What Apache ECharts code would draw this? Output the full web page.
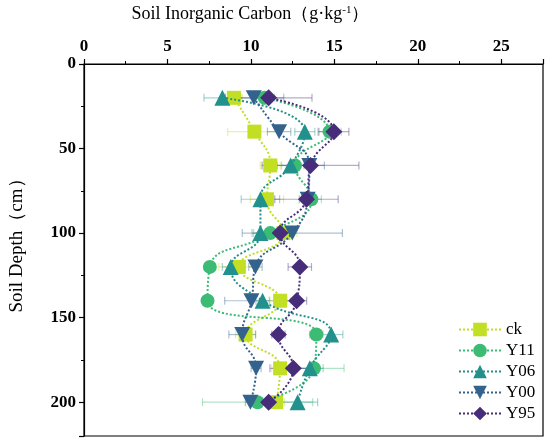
<!DOCTYPE html>
<html>
<head>
<meta charset="utf-8">
<script src="https://cdn.jsdelivr.net/npm/echarts@6/dist/echarts.min.js"></script>
<style>
html,body{margin:0;padding:0;background:#fff;}
#main{width:550px;height:445px;}
</style>
</head>
<body>
<div id="main"></div>
<script>
//深度 (cm)
var depthList = [20, 40, 60, 80, 100, 120, 140, 160, 180, 200];
//各处理无机碳均值
var ckList  = [8.98, 10.21, 11.16, 10.96, 11.95, 9.28, 11.75, 9.68, 11.75, 11.51];
var y11List = [10.82, 14.71, 12.64, 13.62, 11.16, 7.54, 7.40, 13.92, 13.78, 10.40];
var y06List = [8.29, 13.23, 12.38, 10.57, 10.57, 8.79, 10.70, 14.81, 13.53, 12.80];
var y00List = [10.17, 11.69, 13.50, 13.40, 12.48, 10.27, 10.03, 9.48, 10.31, 9.97];
var y95List = [11.06, 14.97, 13.57, 13.33, 11.75, 12.93, 12.74, 11.65, 12.54, 11.06];
//误差
var ckErr  = [0.5, 1.6, 0.6, 1.0, 0.8, 1.2, 0.6, 0.6, 0.5, 0.5];
var y11Err = [0.6, 0.7, 0.8, 0.6, 1.0, 0.3, 0.3, 0.4, 1.8, 3.3];
var y06Err = [1.1, 0.6, 0.8, 1.15, 0.5, 0.5, 0.4, 0.7, 0.8, 1.2];
var y00Err = [1.8, 0.7, 0.9, 0.5, 3.0, 0.4, 1.6, 0.8, 0.3, 0.3];
var y95Err = [2.6, 0.9, 2.9, 1.9, 0.6, 0.7, 0.6, 0.4, 1.4, 0.5];
//坐标刻度
var xTicks = [0, 5, 10, 15, 20, 25];
var yTicks = [0, 50, 100, 150, 200];

var names  = ['ck', 'Y11', 'Y06', 'Y00', 'Y95'];
var values = [ckList, y11List, y06List, y00List, y95List];
var errs   = [ckErr, y11Err, y06Err, y00Err, y95Err];
var colors = ['#c2df23', '#3cbb75', '#22908c', '#33638d', '#472c7a'];
var symbols = ['rect', 'circle', 'triangle', 'path://M0,0 L10,0 L5,9 Z', 'diamond'];
var sizes  = [14, 14, 16, [16, 15], 17];

var fontFamily = '"Liberation Serif", "Times New Roman", serif';

var series = [];
//误差棒
for (var s = 0; s < names.length; s++) {
    var errData = [];
    for (var i = 0; i < depthList.length; i++) {
        errData.push([values[s][i], depthList[i], errs[s][i]]);
    }
    series.push({
        type: 'custom',
        name: names[s] + '_err',
        z: 1,
        silent: true,
        itemStyle: {color: colors[s]},
        renderItem: (function (col) {
            return function (params, api) {
                var x = api.value(0), d = api.value(1), e = api.value(2);
                var p1 = api.coord([x - e, d]);
                var p2 = api.coord([x + e, d]);
                var h = 4;
                var st = {stroke: col, lineWidth: 1.2, opacity: 0.4};
                return {
                    type: 'group',
                    children: [
                        {type: 'line', shape: {x1: p1[0], y1: p1[1], x2: p2[0], y2: p2[1]}, style: st},
                        {type: 'line', shape: {x1: p1[0], y1: p1[1] - h, x2: p1[0], y2: p1[1] + h}, style: st},
                        {type: 'line', shape: {x1: p2[0], y1: p2[1] - h, x2: p2[0], y2: p2[1] + h}, style: st}
                    ]
                };
            };
        })(colors[s]),
        data: errData
    });
}
//折线
for (var s = 0; s < names.length; s++) {
    var lineData = [];
    for (var i = 0; i < depthList.length; i++) {
        lineData.push([values[s][i], depthList[i]]);
    }
    series.push({
        type: 'line',
        name: names[s],
        z: 3 + s,
        smooth: 0.5,
        symbol: symbols[s],
        symbolSize: sizes[s],
        showAllSymbol: true,
        itemStyle: {color: colors[s], opacity: 1},
        lineStyle: {color: colors[s], width: 2, type: [2, 2]},
        data: lineData
    });
}

var myChart = echarts.init(document.getElementById('main'));
var option = {
    backgroundColor: '#fff',
    animation: false,
    color: colors,
    grid: {
        left: 80, right: 7, top: 62, bottom: 9,
        show: true, borderColor: '#000', borderWidth: 1.2
    },
    legend: {
        data: names,
        orient: 'vertical',
        left: 453,
        top: 316,
        itemWidth: 42,
        itemHeight: 17,
        itemGap: 4,
        textStyle: {fontFamily: fontFamily, fontSize: 17, color: '#000'}
    },
    xAxis: {
        type: 'value',
        position: 'top',
        min: 0,
        max: 27.5,
        interval: 5,
        name: 'Soil Inorganic Carbon（g·kg{sup|-1}）',
        nameLocation: 'middle',
        nameGap: 40,
        nameTextStyle: {
            fontFamily: fontFamily, fontSize: 18, color: '#000',
            padding: [0, 126, 0, 0],
            rich: {sup: {fontFamily: fontFamily, fontSize: 11, verticalAlign: 'top', padding: [0, 0, 8, 0]}}
        },
        axisLine: {lineStyle: {color: '#000', width: 1.2}},
        axisTick: {inside: false, length: 5, lineStyle: {color: '#000', width: 1.2}},
        minorTick: {show: true, splitNumber: 2, length: 3, lineStyle: {color: '#000'}},
        splitLine: {show: false},
        axisLabel: {
            fontFamily: fontFamily, fontSize: 17, fontWeight: 'bold', color: '#000', margin: 9,
            showMaxLabel: false,
            formatter: function (v) { return xTicks.indexOf(v) >= 0 ? String(v) : ''; }
        }
    },
    yAxis: {
        type: 'value',
        inverse: true,
        min: 0,
        max: 220,
        interval: 50,
        name: 'Soil Depth（cm）',
        nameLocation: 'middle',
        nameGap: 57,
        nameTextStyle: {fontFamily: fontFamily, fontSize: 19, color: '#000', padding: [0, 0, 0, 18]},
        axisLine: {lineStyle: {color: '#000', width: 1.2}},
        axisTick: {inside: false, length: 5, lineStyle: {color: '#000', width: 1.2}},
        minorTick: {show: true, splitNumber: 2, length: 3, lineStyle: {color: '#000'}},
        splitLine: {show: false},
        axisLabel: {
            fontFamily: fontFamily, fontSize: 17, fontWeight: 'bold', color: '#000', margin: 8,
            showMaxLabel: false,
            formatter: function (v) { return yTicks.indexOf(v) >= 0 ? String(v) : ''; }
        }
    },
    series: series
};
myChart.setOption(option, true);
</script>
</body>
</html>
